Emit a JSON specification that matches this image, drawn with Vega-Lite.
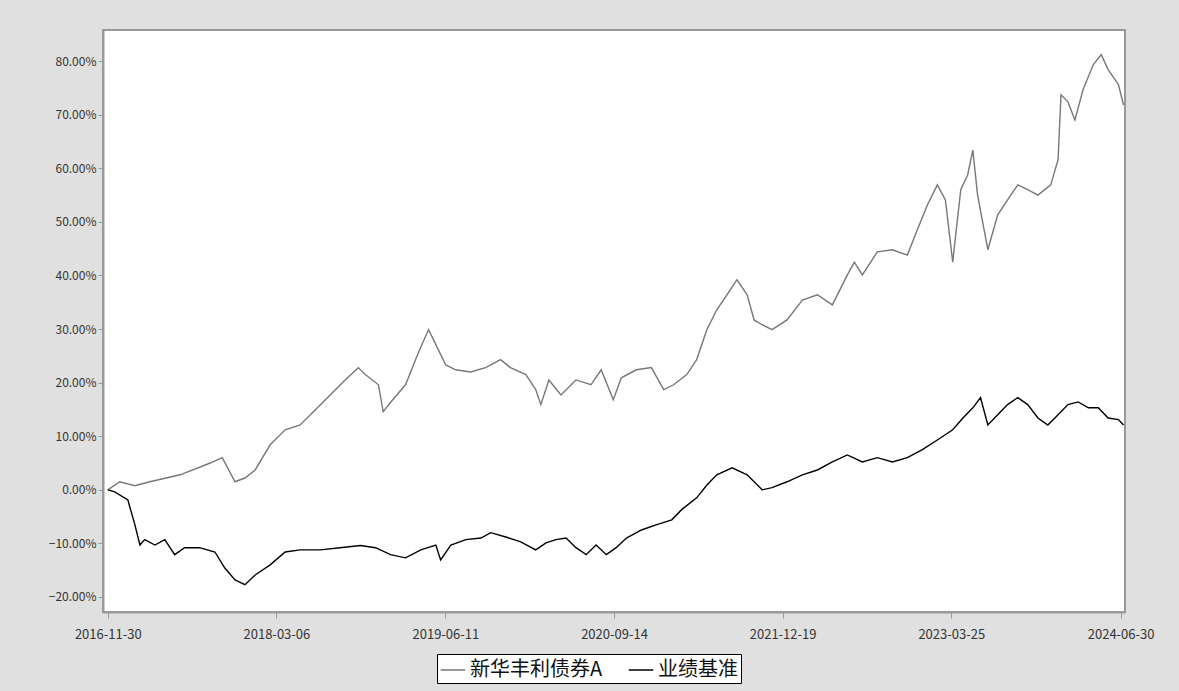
{
  "$schema": "https://vega.github.io/schema/vega-lite/v6.json",
  "width": 1022,
  "height": 582,
  "autosize": {"type": "none"},
  "padding": {"left": 103, "top": 30, "right": 54, "bottom": 79},
  "background": "#e0e0e0",
  "config": {
    "view": {"fill": "white", "stroke": "#999", "strokeWidth": 2},
    "font": "Noto Sans CJK SC",
    "axis": {"labelFont": "Noto Sans CJK SC", "labelColor": "#333", "labelFontSize": 12, "grid": false, "domainColor": "#999", "tickColor": "#999"}
  },
  "data": {
    "values": [
      {"d": "2016-11-30", "s": "新华丰利债券A", "v": 0.0},
      {"d": "2017-01-02", "s": "新华丰利债券A", "v": 0.015},
      {"d": "2017-02-12", "s": "新华丰利债券A", "v": 0.0075},
      {"d": "2017-03-25", "s": "新华丰利债券A", "v": 0.015},
      {"d": "2017-06-16", "s": "新华丰利债券A", "v": 0.028},
      {"d": "2017-09-06", "s": "新华丰利债券A", "v": 0.050},
      {"d": "2017-10-09", "s": "新华丰利债券A", "v": 0.060},
      {"d": "2017-11-13", "s": "新华丰利债券A", "v": 0.015},
      {"d": "2017-12-10", "s": "新华丰利债券A", "v": 0.022},
      {"d": "2018-01-07", "s": "新华丰利债券A", "v": 0.037},
      {"d": "2018-02-17", "s": "新华丰利债券A", "v": 0.084},
      {"d": "2018-03-30", "s": "新华丰利债券A", "v": 0.112},
      {"d": "2018-05-10", "s": "新华丰利债券A", "v": 0.121},
      {"d": "2018-06-20", "s": "新华丰利债券A", "v": 0.149},
      {"d": "2018-07-31", "s": "新华丰利债券A", "v": 0.177},
      {"d": "2018-09-10", "s": "新华丰利债券A", "v": 0.205},
      {"d": "2018-10-16", "s": "新华丰利债券A", "v": 0.228},
      {"d": "2018-11-04", "s": "新华丰利债券A", "v": 0.215},
      {"d": "2018-12-10", "s": "新华丰利债券A", "v": 0.196},
      {"d": "2018-12-23", "s": "新华丰利债券A", "v": 0.146},
      {"d": "2019-01-18", "s": "新华丰利债券A", "v": 0.168},
      {"d": "2019-02-22", "s": "新华丰利债券A", "v": 0.196},
      {"d": "2019-03-30", "s": "新华丰利债券A", "v": 0.257},
      {"d": "2019-04-26", "s": "新华丰利债券A", "v": 0.299},
      {"d": "2019-05-16", "s": "新华丰利债券A", "v": 0.271},
      {"d": "2019-06-12", "s": "新华丰利债券A", "v": 0.233},
      {"d": "2019-07-09", "s": "新华丰利债券A", "v": 0.224},
      {"d": "2019-08-19", "s": "新华丰利债券A", "v": 0.220},
      {"d": "2019-09-29", "s": "新华丰利债券A", "v": 0.228},
      {"d": "2019-11-09", "s": "新华丰利债券A", "v": 0.243},
      {"d": "2019-12-06", "s": "新华丰利债券A", "v": 0.228},
      {"d": "2020-01-17", "s": "新华丰利债券A", "v": 0.215},
      {"d": "2020-02-13", "s": "新华丰利债券A", "v": 0.187},
      {"d": "2020-02-27", "s": "新华丰利债券A", "v": 0.159},
      {"d": "2020-03-20", "s": "新华丰利债券A", "v": 0.205},
      {"d": "2020-04-22", "s": "新华丰利债券A", "v": 0.177},
      {"d": "2020-06-02", "s": "新华丰利债券A", "v": 0.205},
      {"d": "2020-07-13", "s": "新华丰利债券A", "v": 0.196},
      {"d": "2020-08-10", "s": "新华丰利债券A", "v": 0.224},
      {"d": "2020-09-12", "s": "新华丰利债券A", "v": 0.168},
      {"d": "2020-10-04", "s": "新华丰利债券A", "v": 0.209},
      {"d": "2020-11-14", "s": "新华丰利债券A", "v": 0.224},
      {"d": "2020-12-25", "s": "新华丰利债券A", "v": 0.228},
      {"d": "2021-01-28", "s": "新华丰利债券A", "v": 0.187},
      {"d": "2021-02-24", "s": "新华丰利债券A", "v": 0.196},
      {"d": "2021-04-01", "s": "新华丰利债券A", "v": 0.215},
      {"d": "2021-04-28", "s": "新华丰利债券A", "v": 0.243},
      {"d": "2021-05-26", "s": "新华丰利债券A", "v": 0.299},
      {"d": "2021-06-22", "s": "新华丰利债券A", "v": 0.336},
      {"d": "2021-07-20", "s": "新华丰利债券A", "v": 0.364},
      {"d": "2021-08-16", "s": "新华丰利债券A", "v": 0.392},
      {"d": "2021-09-13", "s": "新华丰利债券A", "v": 0.364},
      {"d": "2021-10-02", "s": "新华丰利债券A", "v": 0.317},
      {"d": "2021-10-24", "s": "新华丰利债券A", "v": 0.308},
      {"d": "2021-11-20", "s": "新华丰利债券A", "v": 0.299},
      {"d": "2021-12-31", "s": "新华丰利债券A", "v": 0.317},
      {"d": "2022-02-11", "s": "新华丰利债券A", "v": 0.354},
      {"d": "2022-03-24", "s": "新华丰利债券A", "v": 0.364},
      {"d": "2022-05-04", "s": "新华丰利债券A", "v": 0.345},
      {"d": "2022-06-14", "s": "新华丰利债券A", "v": 0.401},
      {"d": "2022-07-03", "s": "新华丰利债券A", "v": 0.425},
      {"d": "2022-07-25", "s": "新华丰利债券A", "v": 0.401},
      {"d": "2022-09-04", "s": "新华丰利债券A", "v": 0.444},
      {"d": "2022-10-15", "s": "新华丰利债券A", "v": 0.448},
      {"d": "2022-11-25", "s": "新华丰利债券A", "v": 0.438},
      {"d": "2022-12-22", "s": "新华丰利债券A", "v": 0.485},
      {"d": "2023-01-19", "s": "新华丰利债券A", "v": 0.532},
      {"d": "2023-02-15", "s": "新华丰利债券A", "v": 0.569},
      {"d": "2023-03-09", "s": "新华丰利债券A", "v": 0.541},
      {"d": "2023-03-29", "s": "新华丰利债券A", "v": 0.425},
      {"d": "2023-04-20", "s": "新华丰利债券A", "v": 0.560},
      {"d": "2023-05-09", "s": "新华丰利债券A", "v": 0.588},
      {"d": "2023-05-23", "s": "新华丰利债券A", "v": 0.634},
      {"d": "2023-06-05", "s": "新华丰利债券A", "v": 0.550},
      {"d": "2023-07-03", "s": "新华丰利债券A", "v": 0.448},
      {"d": "2023-07-30", "s": "新华丰利债券A", "v": 0.513},
      {"d": "2023-08-26", "s": "新华丰利债券A", "v": 0.541},
      {"d": "2023-09-23", "s": "新华丰利债券A", "v": 0.569},
      {"d": "2023-10-20", "s": "新华丰利债券A", "v": 0.560},
      {"d": "2023-11-17", "s": "新华丰利债券A", "v": 0.550},
      {"d": "2023-12-22", "s": "新华丰利债券A", "v": 0.569},
      {"d": "2024-01-11", "s": "新华丰利债券A", "v": 0.616},
      {"d": "2024-01-19", "s": "新华丰利债券A", "v": 0.737},
      {"d": "2024-02-07", "s": "新华丰利债券A", "v": 0.724},
      {"d": "2024-02-26", "s": "新华丰利债券A", "v": 0.690},
      {"d": "2024-03-19", "s": "新华丰利债券A", "v": 0.746},
      {"d": "2024-04-16", "s": "新华丰利债券A", "v": 0.793},
      {"d": "2024-05-08", "s": "新华丰利债券A", "v": 0.812},
      {"d": "2024-05-27", "s": "新华丰利债券A", "v": 0.784},
      {"d": "2024-06-24", "s": "新华丰利债券A", "v": 0.756},
      {"d": "2024-07-08", "s": "新华丰利债券A", "v": 0.718},
      {"d": "2016-11-30", "s": "业绩基准", "v": 0.0},
      {"d": "2016-12-19", "s": "业绩基准", "v": -0.004},
      {"d": "2017-01-24", "s": "业绩基准", "v": -0.019},
      {"d": "2017-02-12", "s": "业绩基准", "v": -0.065},
      {"d": "2017-02-26", "s": "业绩基准", "v": -0.103},
      {"d": "2017-03-11", "s": "业绩基准", "v": -0.093},
      {"d": "2017-04-08", "s": "业绩基准", "v": -0.103},
      {"d": "2017-05-05", "s": "业绩基准", "v": -0.093},
      {"d": "2017-06-01", "s": "业绩基准", "v": -0.121},
      {"d": "2017-06-28", "s": "业绩基准", "v": -0.108},
      {"d": "2017-08-08", "s": "业绩基准", "v": -0.108},
      {"d": "2017-09-19", "s": "业绩基准", "v": -0.116},
      {"d": "2017-10-16", "s": "业绩基准", "v": -0.146},
      {"d": "2017-11-13", "s": "业绩基准", "v": -0.168},
      {"d": "2017-12-10", "s": "业绩基准", "v": -0.177},
      {"d": "2018-01-07", "s": "业绩基准", "v": -0.159},
      {"d": "2018-02-17", "s": "业绩基准", "v": -0.140},
      {"d": "2018-03-30", "s": "业绩基准", "v": -0.116},
      {"d": "2018-05-10", "s": "业绩基准", "v": -0.112},
      {"d": "2018-07-04", "s": "业绩基准", "v": -0.112},
      {"d": "2018-08-27", "s": "业绩基准", "v": -0.108},
      {"d": "2018-10-22", "s": "业绩基准", "v": -0.104},
      {"d": "2018-12-02", "s": "业绩基准", "v": -0.108},
      {"d": "2019-01-12", "s": "业绩基准", "v": -0.121},
      {"d": "2019-02-22", "s": "业绩基准", "v": -0.127},
      {"d": "2019-04-05", "s": "业绩基准", "v": -0.112},
      {"d": "2019-05-16", "s": "业绩基准", "v": -0.103},
      {"d": "2019-05-29", "s": "业绩基准", "v": -0.131},
      {"d": "2019-06-26", "s": "业绩基准", "v": -0.103},
      {"d": "2019-08-06", "s": "业绩基准", "v": -0.093},
      {"d": "2019-09-16", "s": "业绩基准", "v": -0.090},
      {"d": "2019-10-13", "s": "业绩基准", "v": -0.080},
      {"d": "2019-11-23", "s": "业绩基准", "v": -0.088},
      {"d": "2020-01-03", "s": "业绩基准", "v": -0.097},
      {"d": "2020-02-13", "s": "业绩基准", "v": -0.112},
      {"d": "2020-03-12", "s": "业绩基准", "v": -0.099},
      {"d": "2020-04-08", "s": "业绩基准", "v": -0.093},
      {"d": "2020-05-06", "s": "业绩基准", "v": -0.090},
      {"d": "2020-06-02", "s": "业绩基准", "v": -0.108},
      {"d": "2020-06-30", "s": "业绩基准", "v": -0.121},
      {"d": "2020-07-27", "s": "业绩基准", "v": -0.103},
      {"d": "2020-08-24", "s": "业绩基准", "v": -0.121},
      {"d": "2020-09-20", "s": "业绩基准", "v": -0.108},
      {"d": "2020-10-18", "s": "业绩基准", "v": -0.090},
      {"d": "2020-11-28", "s": "业绩基准", "v": -0.075},
      {"d": "2021-01-09", "s": "业绩基准", "v": -0.065},
      {"d": "2021-02-19", "s": "业绩基准", "v": -0.056},
      {"d": "2021-03-18", "s": "业绩基准", "v": -0.037},
      {"d": "2021-04-28", "s": "业绩基准", "v": -0.015},
      {"d": "2021-05-26", "s": "业绩基准", "v": 0.009},
      {"d": "2021-06-22", "s": "业绩基准", "v": 0.028},
      {"d": "2021-08-03", "s": "业绩基准", "v": 0.041},
      {"d": "2021-09-13", "s": "业绩基准", "v": 0.028},
      {"d": "2021-10-24", "s": "业绩基准", "v": 0.0},
      {"d": "2021-11-20", "s": "业绩基准", "v": 0.004},
      {"d": "2021-12-31", "s": "业绩基准", "v": 0.015},
      {"d": "2022-02-11", "s": "业绩基准", "v": 0.028},
      {"d": "2022-03-24", "s": "业绩基准", "v": 0.037},
      {"d": "2022-05-04", "s": "业绩基准", "v": 0.052},
      {"d": "2022-06-14", "s": "业绩基准", "v": 0.065},
      {"d": "2022-07-25", "s": "业绩基准", "v": 0.052},
      {"d": "2022-09-04", "s": "业绩基准", "v": 0.060},
      {"d": "2022-10-15", "s": "业绩基准", "v": 0.052},
      {"d": "2022-11-25", "s": "业绩基准", "v": 0.060},
      {"d": "2023-01-05", "s": "业绩基准", "v": 0.075},
      {"d": "2023-02-15", "s": "业绩基准", "v": 0.093},
      {"d": "2023-03-29", "s": "业绩基准", "v": 0.112},
      {"d": "2023-04-26", "s": "业绩基准", "v": 0.134},
      {"d": "2023-05-23", "s": "业绩基准", "v": 0.153},
      {"d": "2023-06-13", "s": "业绩基准", "v": 0.172},
      {"d": "2023-07-03", "s": "业绩基准", "v": 0.121},
      {"d": "2023-07-30", "s": "业绩基准", "v": 0.140},
      {"d": "2023-08-26", "s": "业绩基准", "v": 0.159},
      {"d": "2023-09-23", "s": "业绩基准", "v": 0.172},
      {"d": "2023-10-20", "s": "业绩基准", "v": 0.159},
      {"d": "2023-11-17", "s": "业绩基准", "v": 0.134},
      {"d": "2023-12-14", "s": "业绩基准", "v": 0.121},
      {"d": "2024-01-11", "s": "业绩基准", "v": 0.140},
      {"d": "2024-02-07", "s": "业绩基准", "v": 0.159},
      {"d": "2024-03-06", "s": "业绩基准", "v": 0.164},
      {"d": "2024-04-03", "s": "业绩基准", "v": 0.153},
      {"d": "2024-04-30", "s": "业绩基准", "v": 0.153},
      {"d": "2024-05-27", "s": "业绩基准", "v": 0.134},
      {"d": "2024-06-24", "s": "业绩基准", "v": 0.131},
      {"d": "2024-07-08", "s": "业绩基准", "v": 0.121}
    ]
  },
  "mark": {"type": "line", "strokeWidth": 1.4, "clip": true},
  "encoding": {
    "x": {
      "field": "d",
      "type": "temporal",
      "scale": {"domain": ["2016-11-17", "2024-07-12"]},
      "axis": {
        "title": null,
        "values": ["2016-11-30", "2018-03-06", "2019-06-11", "2020-09-14", "2021-12-19", "2023-03-25", "2024-06-30"],
        "format": "%Y-%m-%d",
        "labelPadding": 10,
        "tickSize": 6,
        "domainWidth": 2,
        "labelFontSize": 13
      }
    },
    "y": {
      "field": "v",
      "type": "quantitative",
      "scale": {"domain": [-0.228, 0.858], "nice": false, "zero": false},
      "axis": {
        "title": null,
        "values": [-0.2, -0.1, 0, 0.1, 0.2, 0.3, 0.4, 0.5, 0.6, 0.7, 0.8],
        "format": ".2%",
        "tickSize": 5,
        "labelPadding": 2,
        "domainWidth": 2,
        "labelFontSize": 12
      }
    },
    "color": {
      "field": "s",
      "type": "nominal",
      "scale": {"domain": ["新华丰利债券A", "业绩基准"], "range": ["#777777", "#000000"]},
      "legend": {
        "title": null,
        "orient": "none",
        "legendX": 334,
        "legendY": 624,
        "direction": "horizontal",
        "symbolType": "stroke",
        "symbolSize": 600,
        "symbolStrokeWidth": 1.5,
        "labelFontSize": 20,
        "labelColor": "#111",
        "strokeColor": "#000",
        "fillColor": "white",
        "padding": 3,
        "columnPadding": 22
      }
    }
  }
}
